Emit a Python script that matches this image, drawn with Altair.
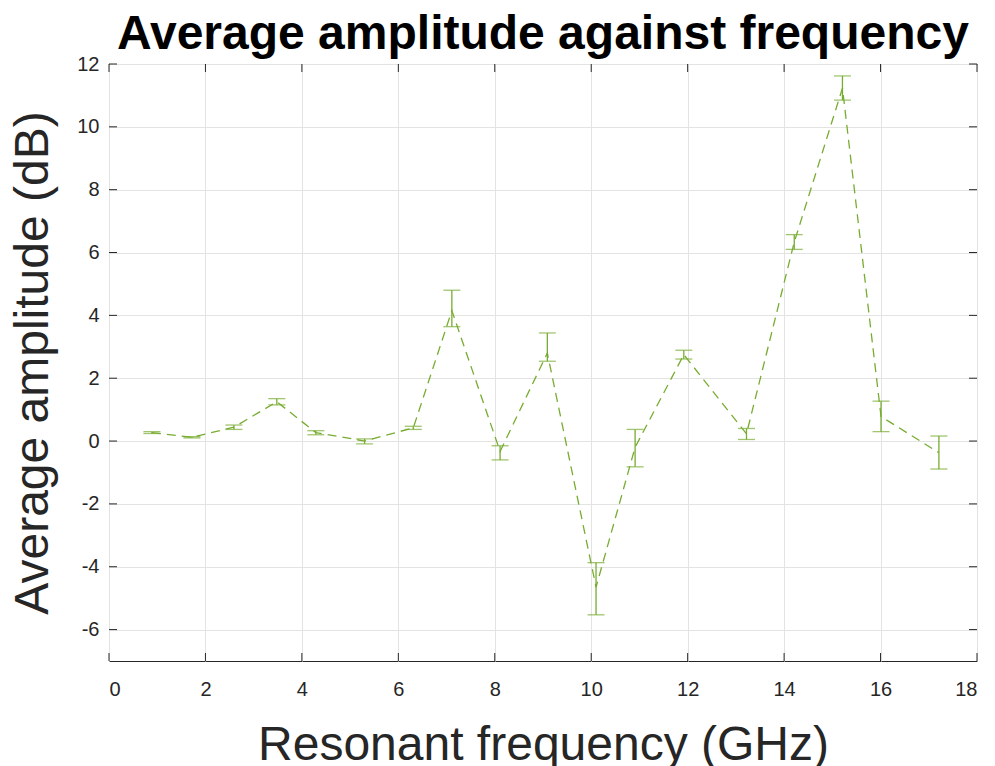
import altair as alt
import pandas as pd

# Data
freq = [0.89, 1.72, 2.59, 3.48, 4.29, 5.30, 6.31, 7.11, 8.11, 9.09, 10.10, 10.91, 11.92, 13.22, 14.21, 15.21, 16.01, 17.21]
amp = [0.27, 0.12, 0.44, 1.25, 0.27, 0.00, 0.42, 4.15, -0.33, 2.80, -4.65, -0.20, 2.75, 0.23, 6.33, 11.23, 0.78, -0.37]
err_lo = [0.24, 0.10, 0.37, 1.15, 0.20, -0.09, 0.37, 3.64, -0.60, 2.54, -5.53, -0.82, 2.61, 0.05, 6.10, 10.85, 0.30, -0.89]
err_hi = [0.30, 0.14, 0.51, 1.35, 0.33, 0.07, 0.47, 4.80, -0.15, 3.44, -3.87, 0.37, 2.89, 0.40, 6.57, 11.62, 1.27, 0.16]

x_ticks = [0, 2, 4, 6, 8, 10, 12, 14, 16, 18]
y_ticks = [-6, -4, -2, 0, 2, 4, 6, 8, 10, 12]

X_T = "Resonant frequency (GHz)"
Y_T = "Average amplitude (dB)"
TITLE = "Average amplitude against frequency"

W, H = 868, 597
GREEN = "#77AC30"
AXC = "#262626"
FONT = "Liberation Sans"

df = pd.DataFrame({"freq": freq, "amp": amp, "lo": err_lo, "hi": err_hi})
dfx = pd.DataFrame({"t": x_ticks})
dfy = pd.DataFrame({"t": y_ticks})

xs = alt.Scale(domain=[0, 18], nice=False, zero=False)
ys = alt.Scale(domain=[-7, 12], nice=False, zero=False)

x_axis = alt.Axis(values=x_ticks, title=X_T, ticks=False, domain=False,
                  labelExpr="datum.value",
                  labelFontSize=20, labelColor=AXC, labelFont=FONT, labelPadding=18,
                  titleFontSize=48, titleFont=FONT, titleColor=AXC, titleFontWeight="normal",
                  titlePadding=22, grid=True, gridColor="#e3e3e3", gridWidth=1)
y_axis = alt.Axis(values=y_ticks, title=Y_T, ticks=False, domain=False,
                  labelExpr="datum.value",
                  labelFontSize=20, labelColor=AXC, labelFont=FONT, labelPadding=10,
                  titleFontSize=48, titleFont=FONT, titleColor=AXC, titleFontWeight="normal",
                  titlePadding=19, grid=True, gridColor="#e3e3e3", gridWidth=1)

base = alt.Chart(df)

line = base.mark_line(color=GREEN, strokeDash=[9, 6], strokeWidth=1.3).encode(
    x=alt.X("freq:Q", scale=xs, axis=x_axis, title=X_T),
    y=alt.Y("amp:Q", scale=ys, axis=y_axis, title=Y_T),
)

bars = base.mark_rule(color=GREEN, strokeWidth=1.3).encode(
    x=alt.X("freq:Q", scale=xs, axis=x_axis, title=X_T),
    y=alt.Y("lo:Q", scale=ys, axis=y_axis, title=Y_T),
    y2="hi:Q",
)

cap_lo = base.mark_tick(color=GREEN, orient="horizontal", size=17, thickness=1.3).encode(
    x=alt.X("freq:Q", scale=xs, axis=x_axis, title=X_T),
    y=alt.Y("lo:Q", scale=ys, axis=y_axis, title=Y_T),
)
cap_hi = base.mark_tick(color=GREEN, orient="horizontal", size=17, thickness=1.3).encode(
    x=alt.X("freq:Q", scale=xs, axis=x_axis, title=X_T),
    y=alt.Y("hi:Q", scale=ys, axis=y_axis, title=Y_T),
)

tick_len = 8
xt_bottom = alt.Chart(dfx).mark_rule(color=AXC, strokeWidth=1).encode(
    x=alt.X("t:Q", scale=xs, axis=x_axis, title=X_T), y=alt.value(H), y2=alt.value(H - tick_len))
xt_top = alt.Chart(dfx).mark_rule(color=AXC, strokeWidth=1).encode(
    x=alt.X("t:Q", scale=xs, axis=x_axis, title=X_T), y=alt.value(0), y2=alt.value(tick_len))
yt_left = alt.Chart(dfy).mark_rule(color=AXC, strokeWidth=1).encode(
    y=alt.Y("t:Q", scale=ys, axis=y_axis, title=Y_T), x=alt.value(0), x2=alt.value(tick_len))
yt_right = alt.Chart(dfy).mark_rule(color=AXC, strokeWidth=1).encode(
    y=alt.Y("t:Q", scale=ys, axis=y_axis, title=Y_T), x=alt.value(W), x2=alt.value(W - tick_len))

chart = alt.layer(line, bars, cap_lo, cap_hi, xt_bottom, xt_top, yt_left, yt_right).properties(
    width=W,
    height=H,
    background="white",
    title=alt.TitleParams(TITLE, fontSize=48, fontWeight="bold",
                          font=FONT, color="#000000", anchor="middle", offset=6, dy=11),
    autosize=alt.AutoSizeParams(type="none"),
    padding={"left": 101, "top": 56, "right": 10, "bottom": 112},
).configure_view(stroke=AXC, strokeWidth=1)

chart.save("out.html", embed_options={"renderer": "svg", "actions": False})
